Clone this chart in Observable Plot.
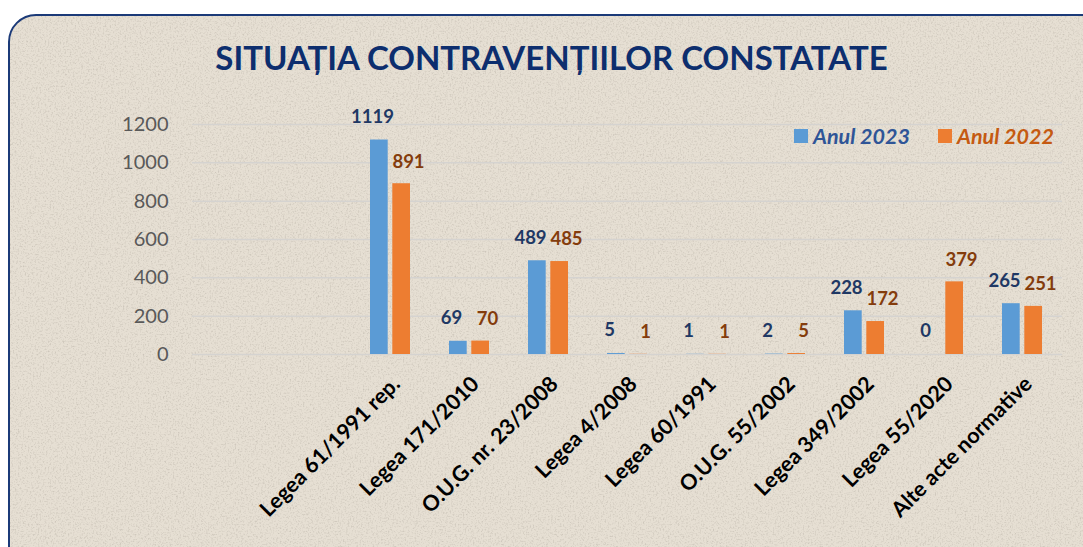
<!DOCTYPE html>
<html><head><meta charset="utf-8">
<script src="https://cdn.jsdelivr.net/npm/d3@7"></script>
<script src="https://cdn.jsdelivr.net/npm/@observablehq/plot@0.6"></script>
<style>
html,body{margin:0;padding:0;background:#fff;width:1083px;height:547px;overflow:hidden;font-family:Lato,"Open Sans",sans-serif;}
#panel{position:absolute;left:8px;top:14px;width:1110px;height:570px;border:2px solid #1b3a78;border-radius:28px;background:#e6dfd3;box-sizing:border-box;overflow:hidden;}
#panel svg{position:absolute;left:0;top:0;}
#title{position:absolute;left:10px;width:1083px;top:39px;text-align:center;font-weight:700;font-size:33px;line-height:36px;color:#0d2e6e;margin:0;}
#chart{position:absolute;left:0;top:0;}
.leg{position:absolute;top:123px;font-weight:700;font-style:italic;font-size:21.5px;line-height:26px;display:flex;align-items:center;}
.sw{width:14px;height:14px;margin-right:5px;display:inline-block;}
</style></head>
<body>
<div id="panel"><svg width="1110" height="570"><filter id="noise"><feTurbulence type="fractalNoise" baseFrequency="0.6" numOctaves="3" seed="4"/><feColorMatrix type="matrix" values="0 0 0 0 0.48 0 0 0 0 0.44 0 0 0 0 0.38 0 0 0 2.4 -1.15"/></filter><rect width="1110" height="570" filter="url(#noise)" opacity="0.55"/></svg></div>
<h1 id="title">SITUAȚIA CONTRAVENȚIILOR CONSTATATE</h1>
<div id="chart"></div>
<div id="legend"></div>
<script>
const categories = ["Legea 61/1991 rep.", "Legea 171/2010", "O.U.G. nr. 23/2008", "Legea 4/2008", "Legea 60/1991", "O.U.G. 55/2002", "Legea 349/2002", "Legea 55/2020", "Alte acte normative"];
const blankSlots = ["", " "];
const values2023 = [1119, 69, 489, 5, 1, 2, 228, 0, 265];
const values2022 = [891, 70, 485, 1, 1, 5, 172, 379, 251];
const yTicks = [0, 200, 400, 600, 800, 1000, 1200];
const seriesNames = ["Anul 2023", "Anul 2022"];
const barColors = ["#5b9bd5", "#ed7d31"];
const labelColors = ["#1f3864", "#843c0c"];
const legendColors = ["#2f5597", "#c55a11"];

const rows = categories.map((c, i) => ({cat: c, v23: values2023[i], v22: values2022[i]}));

const chart = Plot.plot({
  width: 1083, height: 547,
  marginTop: 124, marginBottom: 193, marginLeft: 192, marginRight: 21,
  style: {background: "transparent", overflow: "visible", fontFamily: "Lato, 'Open Sans', sans-serif"},
  x: {domain: [...blankSlots, ...categories], paddingInner: 0.49, paddingOuter: 0.245, label: null, axis: null},
  y: {domain: [0, 1200], label: null, axis: null},
  marks: [
    Plot.ruleY(yTicks, {stroke: "#d5d3d0", strokeWidth: 1.5}),
    Plot.axisY({ticks: yTicks, tickFormat: d => String(d), tickSize: 0, tickPadding: 24, fontSize: 20, fill: "#595959", label: null}),
    Plot.axisX({tickSize: 0, tickRotate: -45, tickPadding: 26, dx: 6, fontSize: 21.5, fontWeight: 700, fill: "#000", label: null, tickFormat: d => d.trim()}),
    Plot.barY(rows, {x: "cat", y: "v23", fill: barColors[0], insetRight: 22.3}),
    Plot.barY(rows, {x: "cat", y: "v22", fill: barColors[1], insetLeft: 22.3}),
    Plot.text(rows, {x: "cat", y: "v23", text: d => String(d.v23), dx: -18, dy: -23, fontSize: 18.5, fontWeight: 700, fill: labelColors[0]}),
    Plot.text(rows, {x: "cat", y: "v22", text: d => String(d.v22), dx: 18, dy: -22, fontSize: 18.5, fontWeight: 700, fill: labelColors[1]})
  ]
});
document.getElementById("chart").append(chart);

const legend = document.getElementById("legend");
const legendLeft = [794, 938];
seriesNames.forEach((n, i) => {
  const d = document.createElement("div");
  d.className = "leg";
  d.style.left = legendLeft[i] + "px";
  d.style.color = legendColors[i];
  d.innerHTML = `<span class="sw" style="background:${barColors[i]}"></span>${n}`;
  legend.append(d);
});
</script>
</body></html>
